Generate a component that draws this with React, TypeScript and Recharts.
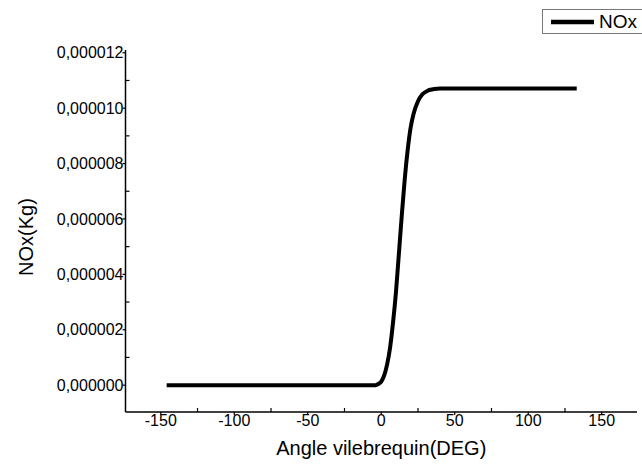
import React from 'react';
import { LineChart, Line, XAxis, YAxis, Legend } from 'recharts';

// Crank angle (deg) and NOx mass (kg)
const angles = [-146, -100, -50, -10, -4, -2, 0, 2, 4, 6, 8, 10, 12, 14, 16, 18, 20, 22, 25, 28, 32, 36, 40, 60, 100, 133];
const noxKg = [
  0, 0, 0, 0, 0, 0.04e-6, 0.13e-6, 0.35e-6, 0.75e-6, 1.35e-6, 2.25e-6, 3.35e-6, 4.75e-6, 6.15e-6, 7.45e-6,
  8.5e-6, 9.3e-6, 9.8e-6, 10.25e-6, 10.5e-6, 10.64e-6, 10.69e-6, 10.71e-6, 10.71e-6, 10.71e-6, 10.71e-6,
];
const xTicks = [-150, -125, -100, -75, -50, -25, 0, 25, 50, 75, 100, 125, 150];
const yTicks = [0, 1e-6, 2e-6, 3e-6, 4e-6, 5e-6, 6e-6, 7e-6, 8e-6, 9e-6, 10e-6, 11e-6, 12e-6];

const data = angles.map((a, i) => ({ angle: a, nox: noxKg[i] }));

const FONT = '"Liberation Sans", Arial, sans-serif';

const XTick = (props: any) => {
  const { x, y, payload } = props;
  const v = payload.value;
  const major = Math.round(v) % 50 === 0;
  return (
    <g>
      {major ? (
        <line x1={x} x2={x} y1={y} y2={y + 3} stroke="#000" strokeWidth={1.2} />
      ) : (
        <line x1={x} x2={x} y1={y} y2={y - 4} stroke="#000" strokeWidth={1.2} />
      )}
      {major && (
        <text x={x} y={y + 14} textAnchor="middle" fontSize={16} fontFamily={FONT} fill="#000">
          {v}
        </text>
      )}
    </g>
  );
};

const YTick = (props: any) => {
  const { x, y, payload } = props;
  const v = payload.value;
  const major = Math.round(v * 1e6) % 2 === 0;
  return (
    <g>
      {major ? (
        <line x1={x} x2={x - 3} y1={y} y2={y} stroke="#000" strokeWidth={1.2} />
      ) : (
        <line x1={x} x2={x + 4} y1={y} y2={y} stroke="#000" strokeWidth={1.2} />
      )}
      {major && (
        <text x={x - 2} y={y} dy="0.35em" textAnchor="end" fontSize={16} fontFamily={FONT} fill="#000">
          {v.toFixed(6).replace('.', ',')}
        </text>
      )}
    </g>
  );
};

const LegendBox = () => (
  <div
    style={{
      boxSizing: 'border-box',
      width: 120,
      height: 25,
      border: '1px solid #777',
      borderRight: 'none',
      background: '#fff',
      display: 'flex',
      alignItems: 'center',
      fontFamily: FONT,
      fontSize: 18,
      color: '#000',
    }}
  >
    <svg width={52} height={10} style={{ display: 'block' }}>
      <line x1={8} x2={51} y1={5} y2={5} stroke="#000" strokeWidth={4.5} />
    </svg>
    <span style={{ marginLeft: 4, lineHeight: '18px', fontSize: 19 }}>NOx</span>
  </div>
);

export default function App() {
  return (
    <div style={{ position: 'absolute', left: 0, top: 0, width: 642, height: 464, overflow: 'hidden', background: '#fff' }}>
      <LineChart width={642} height={464} data={data} margin={{ top: 50, right: 5, bottom: 51, left: 0 }}>
        <XAxis
          dataKey="angle"
          type="number"
          domain={[-174, 174]}
          ticks={xTicks}
          interval={0}
          allowDataOverflow
          height={1}
          tickSize={0}
          tickMargin={0}
          tickLine={false}
          tick={<XTick />}
          axisLine={{ stroke: '#000', strokeWidth: 1.5 }}
          label={{
            content: (p: any) => {
              const vb = p.viewBox;
              return (
                <text x={vb.x + vb.width / 2} y={vb.y + 43} textAnchor="middle" fontSize={20} fontFamily={FONT} fill="#000">
                  Angle vilebrequin(DEG)
                </text>
              );
            },
          }}
        />
        <YAxis
          type="number"
          domain={[-0.97e-6, 12.1e-6]}
          ticks={yTicks}
          interval={0}
          allowDataOverflow
          width={125.5}
          tickSize={0}
          tickMargin={0}
          tickLine={false}
          tick={<YTick />}
          axisLine={{ stroke: '#000', strokeWidth: 1.5 }}
          label={{
            content: () => (
              <text
                x={33}
                y={237}
                transform="rotate(-90 33 237)"
                textAnchor="middle"
                fontSize={20}
                fontFamily={FONT}
                fill="#000"
              >
                NOx(Kg)
              </text>
            ),
          }}
        />
        <Legend
          layout="horizontal"
          verticalAlign="middle"
          align="center"
          content={() => <LegendBox />}
          wrapperStyle={{ position: 'absolute', left: 542, top: 9, width: 120, height: 25 }}
        />
        <Line
          type="monotone"
          dataKey="nox"
          name="NOx"
          stroke="#000"
          strokeWidth={4}
          dot={false}
          isAnimationActive={false}
        />
      </LineChart>
    </div>
  );
}
